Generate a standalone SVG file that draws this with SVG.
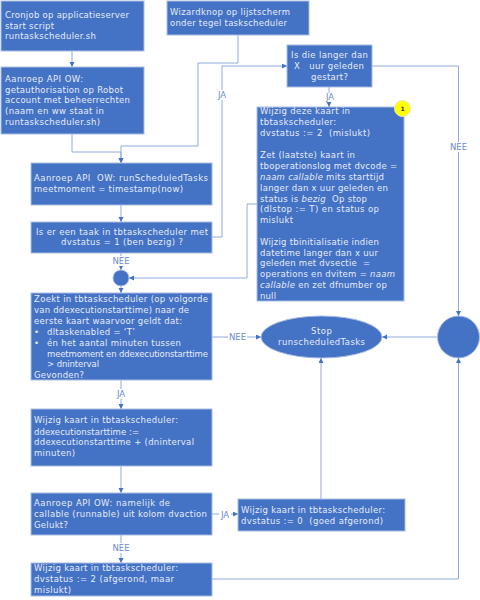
<svg xmlns="http://www.w3.org/2000/svg" width="480" height="600" viewBox="0 0 480 600">
<style>
text{font-family:"DejaVu Sans",Verdana,sans-serif;font-size:8.5px;white-space:pre}
.box{fill:#4472c4;stroke:#a9bde4;stroke-width:1}
.t{fill:#e6ecf8}
.c{fill:none;stroke:#8faadc;stroke-width:1}
.l{fill:#6a8bd0;text-anchor:middle}
.lb{fill:#fff}
.i{font-style:italic}
</style>
<defs><marker id="a" markerWidth="6" markerHeight="6" refX="5" refY="2.5" orient="auto" markerUnits="userSpaceOnUse"><path d="M0 0L5 2.5L0 5Z" fill="#4472c4"/></marker></defs>
<rect width="480" height="600" fill="#fff"/>
<g id="connectors">
<path class="c" marker-end="url(#a)" d="M72 51V67"/>
<path class="c" marker-end="url(#a)" d="M72 134V152H121V163"/>
<path class="c" marker-end="url(#a)" d="M238 35V63H198V146H121V163"/>
<path class="c" marker-end="url(#a)" d="M121 205V222"/>
<path class="c" marker-end="url(#a)" d="M212 237H222V66H287"/>
<path class="c" marker-end="url(#a)" d="M329 87V107"/>
<path class="c" marker-end="url(#a)" d="M372 66H458.500V316"/>
<path class="c" marker-end="url(#a)" d="M257 204H247V278H129"/>
<path class="c" marker-end="url(#a)" d="M121 253V270"/>
<path class="c" marker-end="url(#a)" d="M121 286V293"/>
<path class="c" marker-end="url(#a)" d="M212 337H261"/>
<path class="c" marker-end="url(#a)" d="M437 337H382"/>
<path class="c" marker-end="url(#a)" d="M321 499V358"/>
<path class="c" marker-end="url(#a)" d="M121 380V409"/>
<path class="c" marker-end="url(#a)" d="M121 466V493"/>
<path class="c" marker-end="url(#a)" d="M121 535V563"/>
<path class="c" marker-end="url(#a)" d="M212 514H238"/>
<path class="c" marker-end="url(#a)" d="M212 579H458.500V358"/>
<g id="connector-labels">
<rect class="lb" x="216" y="90" width="12" height="10"/><text class="l" x="222" y="98">JA</text>
<rect class="lb" x="324" y="93" width="12" height="9"/><text class="l" x="330" y="100">JA</text>
<rect class="lb" x="449" y="142" width="19" height="10"/><text class="l" x="458.500" y="150">NEE</text>
<rect class="lb" x="112" y="256" width="18" height="10"/><text class="l" x="121" y="264">NEE</text>
<rect class="lb" x="228" y="332" width="19" height="10"/><text class="l" x="237.500" y="340">NEE</text>
<rect class="lb" x="115" y="389" width="12" height="10"/><text class="l" x="121" y="397">JA</text>
<rect class="lb" x="112" y="543" width="19" height="10"/><text class="l" x="121" y="551">NEE</text>
<rect class="lb" x="219" y="510" width="12" height="9"/><text class="l" x="225" y="518">JA</text>
</g>
</g>
<g id="n1"><rect class="box" x="1" y="1" width="143" height="50"/>
<text class="t" x="5" y="18" textLength="124">Cronjob op applicatieserver</text>
<text class="t" x="5" y="29" textLength="49">start script</text>
<text class="t" x="5" y="39" textLength="91">runtaskscheduler.sh</text></g>
<g id="n2"><rect class="box" x="1" y="67" width="143" height="67"/>
<text class="t" x="5" y="82" textLength="78">Aanroep API OW:</text>
<text class="t" x="5" y="93" textLength="118">getauthorisation op Robot</text>
<text class="t" x="5" y="103" textLength="125">account met beheerrechten</text>
<text class="t" x="5" y="114" textLength="99">(naam en ww staat in</text>
<text class="t" x="5" y="125" textLength="95">runtaskscheduler.sh)</text></g>
<g id="n3"><rect class="box" x="167" y="1" width="142" height="34"/>
<text class="t" x="170" y="15" textLength="120">Wizardknop op lijstscherm</text>
<text class="t" x="170" y="26" textLength="117">onder tegel taskscheduler</text></g>
<g id="n4"><rect class="box" x="31" y="163" width="181" height="42"/>
<text class="t" x="34" y="181" textLength="174">Aanroep API  OW: runScheduledTasks</text>
<text class="t" x="34" y="192" textLength="149">meetmoment = timestamp(now)</text></g>
<g id="n5"><rect class="box" x="31" y="222" width="181" height="31"/>
<text class="t" x="36" y="235" textLength="172">Is er een taak in tbtaskscheduler met</text>
<text class="t" x="61" y="245" textLength="122">dvstatus = 1 (ben bezig) ?</text></g>
<g id="n6"><circle cx="121" cy="278" r="8" fill="#4472c4" stroke="#a9bde4"/></g>
<g id="n7"><rect class="box" x="31" y="293" width="181" height="87"/>
<text class="t" x="34" y="301.500" textLength="174">Zoekt in tbtaskscheduler (op volgorde</text>
<text class="t" x="34" y="312.500" textLength="155">van ddexecutionstarttime) naar de</text>
<text class="t" x="34" y="324" textLength="148">eerste kaart waarvoor geldt dat:</text>
<text class="t" x="34" y="335">•</text><text class="t" x="47" y="335" textLength="88">dltaskenabled = ‘T’</text>
<text class="t" x="34" y="346">•</text><text class="t" x="47" y="346" textLength="134">én het aantal minuten tussen</text>
<text class="t" x="47" y="356.500" textLength="161">meetmoment en ddexecutionstarttime</text>
<text class="t" x="47" y="367" textLength="52">&gt; dninterval</text>
<text class="t" x="34" y="378" textLength="50">Gevonden?</text></g>
<g id="n8"><rect class="box" x="31" y="409" width="181" height="57"/>
<text class="t" x="34" y="423" textLength="144">Wijzig kaart in tbtaskscheduler:</text>
<text class="t" x="34" y="434.500" textLength="105">ddexecutionstarttime :=</text>
<text class="t" x="34" y="445" textLength="160">ddexecutionstarttime + (dninterval</text>
<text class="t" x="34" y="456" textLength="41">minuten)</text></g>
<g id="n9"><rect class="box" x="31" y="493" width="181" height="42"/>
<text class="t" x="34" y="506" textLength="136">Aanroep API OW: namelijk de</text>
<text class="t" x="34" y="517" textLength="173">callable (runnable) uit kolom dvaction</text>
<text class="t" x="34" y="528" textLength="34">Gelukt?</text></g>
<g id="n10"><rect class="box" x="31" y="563" width="181" height="33"/>
<text class="t" x="34" y="571" textLength="144">Wijzig kaart in tbtaskscheduler:</text>
<text class="t" x="34" y="582" textLength="140">dvstatus := 2 (afgerond, maar</text>
<text class="t" x="34" y="593" textLength="37">mislukt)</text></g>
<g id="n11"><rect class="box" x="238" y="499" width="167" height="32"/>
<text class="t" x="241" y="513" textLength="144">Wijzig kaart in tbtaskscheduler:</text>
<text class="t" x="241" y="524" textLength="142">dvstatus := 0  (goed afgerond)</text></g>
<g id="n12"><rect class="box" x="287" y="45" width="85" height="42"/>
<text class="t" x="291" y="58" textLength="77">Is die langer dan</text>
<text class="t" x="294" y="69" textLength="70">X   uur geleden</text>
<text class="t" x="311" y="80" textLength="37">gestart?</text></g>
<g id="n13"><rect class="box" x="257" y="107" width="147" height="194"/>
<text class="t" x="260" y="114" textLength="90">Wijzig deze kaart in</text>
<text class="t" x="260" y="125" textLength="76">tbtaskscheduler:</text>
<text class="t" x="260" y="136" textLength="110">dvstatus := 2  (mislukt)</text>
<text class="t" x="260" y="158" textLength="95">Zet (laatste) kaart in</text>
<text class="t" x="260" y="169" textLength="137">tboperationslog met dvcode =</text>
<text class="t" x="260" y="180" textLength="124"><tspan class="i">naam callable</tspan> mits starttijd</text>
<text class="t" x="260" y="191" textLength="128">langer dan x uur geleden en</text>
<text class="t" x="260" y="201.500" textLength="107">status is <tspan class="i">bezig</tspan>  Op stop</text>
<text class="t" x="260" y="212" textLength="119">(dlstop := T) en status op</text>
<text class="t" x="260" y="223" textLength="33">mislukt</text>
<text class="t" x="260" y="245" textLength="119">Wijzig tbinitialisatie indien</text>
<text class="t" x="260" y="255.500" textLength="118">datetime langer dan x uur</text>
<text class="t" x="260" y="266" textLength="110">geleden met dvsectie  =</text>
<text class="t" x="260" y="277" textLength="135">operations en dvitem = <tspan class="i">naam</tspan></text>
<text class="t" x="260" y="288" textLength="127"><tspan class="i">callable</tspan> en zet dfnumber op</text>
<text class="t" x="260" y="299" textLength="16">null</text></g>
<g id="n14"><circle cx="402.500" cy="108.500" r="8" fill="#ffff00" stroke="#e8e8c0"/><text x="402.500" y="111" text-anchor="middle" style="font-size:6px;font-weight:bold" fill="#333">1</text></g>
<g id="n15"><ellipse cx="321.500" cy="337" rx="60.500" ry="21" fill="#4472c4" stroke="#a9bde4"/>
<text class="t" x="311" y="334" textLength="21">Stop</text>
<text class="t" x="278" y="345" textLength="87">runscheduledTasks</text></g>
<g id="n16"><circle cx="458.500" cy="337" r="21" fill="#4472c4" stroke="#a9bde4"/></g>
</svg>
